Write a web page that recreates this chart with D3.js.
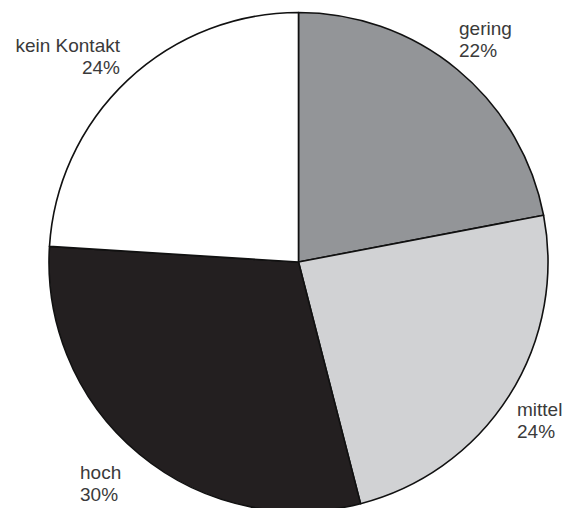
<!DOCTYPE html>
<html>
<head>
<meta charset="utf-8">
<script src="https://cdn.jsdelivr.net/npm/d3@7"></script>
<style>
  html, body { margin: 0; padding: 0; background: #fff; }
  svg { display: block; }
</style>
</head>
<body>
<svg id="chart" width="565" height="508"></svg>
<script>
// Kontakt-Intensität (Anteile in %)
const categories = ["gering", "mittel", "hoch", "kein Kontakt"];
const values = [22, 24, 30, 24];
const colors = ["#939598", "#d1d2d4", "#231f20", "#ffffff"];

// Label anchor positions and alignment per category
const labelPos = [
  { x: 459, y: 35, anchor: "start" },
  { x: 517, y: 416, anchor: "start" },
  { x: 80, y: 479, anchor: "start" },
  { x: 120, y: 52, anchor: "end" }
];

const width = 565, height = 508;
const cx = 298.5, cy = 262, radius = 249.5;

const svg = d3.select("#chart");

const pie = d3.pie().sort(null).value(d => d.value);
const arc = d3.arc().innerRadius(0).outerRadius(radius);

const data = categories.map((c, i) => ({ name: c, value: values[i], color: colors[i] }));

const g = svg.append("g").attr("transform", `translate(${cx},${cy})`);

g.selectAll("path")
  .data(pie(data))
  .join("path")
  .attr("d", arc)
  .attr("fill", d => d.data.color)
  .attr("stroke", "#111")
  .attr("stroke-width", 1.6)
  .attr("stroke-linejoin", "round");

const labels = svg.append("g")
  .attr("font-family", "'Liberation Sans', Arial, sans-serif")
  .attr("font-size", 19)
  .attr("fill", "#3a3a3a");

data.forEach((d, i) => {
  const p = labelPos[i];
  const t = labels.append("text")
    .attr("x", p.x)
    .attr("y", p.y)
    .attr("text-anchor", p.anchor);
  t.append("tspan").attr("x", p.x).text(d.name);
  t.append("tspan").attr("x", p.x).attr("dy", 22).text(d3.format("d")(d.value) + "%");
});
</script>
</body>
</html>
